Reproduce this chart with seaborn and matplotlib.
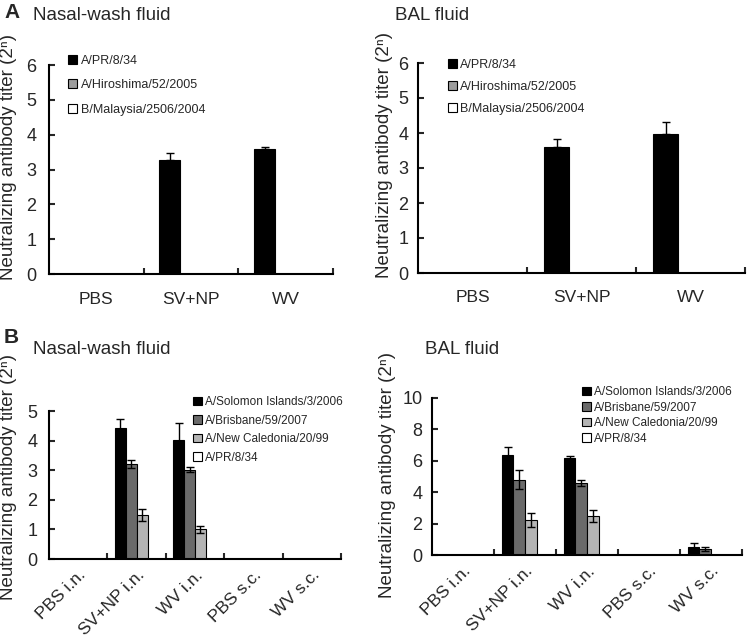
import numpy as np
import pandas as pd
import matplotlib
matplotlib.use("Agg")
import matplotlib.pyplot as plt
import seaborn as sns

# ---------------- data ----------------
groups_a = ["PBS", "SV+NP", "WV"]
strains_a = ["A/PR/8/34", "A/Hiroshima/52/2005", "B/Malaysia/2506/2004"]

nasal_a_pr8 = [0, 3.28, 3.58]
nasal_a_pr8_err = [0, 0.18, 0.07]
nasal_a_hiroshima = [0, 0, 0]
nasal_a_malaysia = [0, 0, 0]

bal_a_pr8 = [0, 3.61, 3.98]
bal_a_pr8_err = [0, 0.22, 0.34]
bal_a_hiroshima = [0, 0, 0]
bal_a_malaysia = [0, 0, 0]

groups_b = ["PBS i.n.", "SV+NP i.n.", "WV i.n.", "PBS s.c.", "WV s.c."]
strains_b = ["A/Solomon Islands/3/2006", "A/Brisbane/59/2007",
             "A/New Caledonia/20/99", "A/PR/8/34"]

nasal_b_solomon = [0, 4.41, 4.02, 0, 0]
nasal_b_solomon_err = [0, 0.32, 0.57, 0, 0]
nasal_b_brisbane = [0, 3.20, 3.02, 0, 0]
nasal_b_brisbane_err = [0, 0.13, 0.09, 0, 0]
nasal_b_caledonia = [0, 1.49, 1.00, 0, 0]
nasal_b_caledonia_err = [0, 0.19, 0.12, 0, 0]
nasal_b_pr8 = [0, 0, 0, 0, 0]
nasal_b_pr8_err = [0, 0, 0, 0, 0]

bal_b_solomon = [0, 6.40, 6.15, 0, 0.53]
bal_b_solomon_err = [0, 0.51, 0.15, 0, 0.21]
bal_b_brisbane = [0, 4.80, 4.58, 0, 0.38]
bal_b_brisbane_err = [0, 0.59, 0.21, 0, 0.15]
bal_b_caledonia = [0, 2.23, 2.46, 0, 0]
bal_b_caledonia_err = [0, 0.45, 0.38, 0, 0]
bal_b_pr8 = [0, 0, 0, 0, 0]
bal_b_pr8_err = [0, 0, 0, 0, 0]

palette_a = ["#000000", "#9c9c9c", "#ffffff"]
palette_b = ["#000000", "#6a6a6a", "#b4b4b4", "#ffffff"]

ylabel = "Neutralizing antibody titer (2\u207f)"

# ---------------- style ----------------
sns.set_style("ticks")
plt.rcParams["font.family"] = ["Liberation Sans", "DejaVu Sans"]
plt.rcParams["axes.edgecolor"] = "black"

fig = plt.figure(figsize=(7.5, 6.41), dpi=100)
W, H = 750, 641


def axes_px(left, top, right, bottom):
    return fig.add_axes([left / W, 1 - bottom / H, (right - left) / W, (bottom - top) / H])


def panel(ax, groups, strains, values, errors, palette, width, ylim, yticks,
          one_sided, rotate, ylab_xy, leg_xy, leg_fs, leg_space, ypad, xpad):
    rows = []
    for s, vals in zip(strains, values):
        for g, v in zip(groups, vals):
            rows.append({"group": g, "strain": s, "value": v})
    df = pd.DataFrame(rows)
    sns.barplot(data=df, x="group", y="value", hue="strain", order=groups,
                hue_order=strains, palette=palette, width=width, errorbar=None,
                edgecolor="black", linewidth=0.8, saturation=1, legend=False, ax=ax)
    for cont, vals, errs in zip(ax.containers, values, errors):
        for bar, v, e in zip(cont, vals, errs):
            if e > 0:
                xc = bar.get_x() + bar.get_width() / 2
                yerr = [[0], [e]] if one_sided else [[e], [e]]
                ax.errorbar([xc], [v], yerr=yerr, fmt="none", ecolor="black",
                            elinewidth=1.0, capsize=3.2 if not one_sided else 3.0,
                            capthick=1.0, zorder=5)
    ax.set_xlim(-0.5, len(groups) - 0.5)
    ax.set_ylim(*ylim)
    ax.set_yticks(yticks)
    ax.set_xticks(range(len(groups)))
    ax.set_xticks(np.arange(0.5, len(groups), 1.0), minor=True)
    if rotate:
        ax.set_xticklabels(groups, rotation=45, ha="right", rotation_mode="anchor")
    else:
        ax.set_xticklabels(groups)
    ax.tick_params(axis="x", which="major", length=0, pad=xpad, labelsize=12.5)
    ax.tick_params(axis="x", which="minor", direction="in", length=4, width=1.5)
    ax.tick_params(axis="y", direction="in", length=4, width=1.5, pad=ypad, labelsize=13)
    for sp in ["top", "right"]:
        ax.spines[sp].set_visible(False)
    for sp in ["left", "bottom"]:
        ax.spines[sp].set_linewidth(1.5)
    ax.set_xlabel("")
    ax.set_ylabel(ylabel, fontsize=13.5)
    ax.yaxis.set_label_coords(*ylab_xy)
    ax.legend(ax.containers, strains, loc="upper left", bbox_to_anchor=leg_xy,
              frameon=False, fontsize=leg_fs, handlelength=0.75, handleheight=0.75,
              handletextpad=0.25, borderpad=0, borderaxespad=0, labelspacing=leg_space)


ax1 = axes_px(49, 65, 333, 274)
panel(ax1, groups_a, strains_a,
      [nasal_a_pr8, nasal_a_hiroshima, nasal_a_malaysia],
      [nasal_a_pr8_err, [0, 0, 0], [0, 0, 0]],
      palette_a, 0.67, (0, 6), range(0, 7), True, False,
      (-0.113, 0.56), (0.067, 1.05), 9, 1.0, 9, 13)

ax2 = axes_px(418, 63, 745, 273)
panel(ax2, groups_a, strains_a,
      [bal_a_pr8, bal_a_hiroshima, bal_a_malaysia],
      [bal_a_pr8_err, [0, 0, 0], [0, 0, 0]],
      palette_a, 0.68, (0, 6), range(0, 7), True, False,
      (-0.076, 0.56), (0.091, 1.02), 9, 0.8, 7, 12)

ax3 = axes_px(49, 411, 341, 559)
panel(ax3, groups_b, strains_b,
      [nasal_b_solomon, nasal_b_brisbane, nasal_b_caledonia, nasal_b_pr8],
      [nasal_b_solomon_err, nasal_b_brisbane_err, nasal_b_caledonia_err, nasal_b_pr8_err],
      palette_b, 0.75, (0, 5), range(0, 6), False, True,
      (-0.11, 0.554), (0.493, 1.10), 8.5, 0.55, 8.5, 6)

ax4 = axes_px(432, 398, 742, 555)
panel(ax4, groups_b, strains_b,
      [bal_b_solomon, bal_b_brisbane, bal_b_caledonia, bal_b_pr8],
      [bal_b_solomon_err, bal_b_brisbane_err, bal_b_caledonia_err, bal_b_pr8_err],
      palette_b, 0.75, (0, 10), range(0, 11, 2), False, True,
      (-0.116, 0.51), (0.483, 1.076), 8.5, 0.3, 7, 6)

# titles and panel letters
fig.text(4 / W, 1 - 13 / H, "A", fontsize=15, fontweight="bold", va="center", ha="left")
fig.text(33 / W, 1 - 15 / H, "Nasal-wash fluid", fontsize=13.5, va="center", ha="left")
fig.text(395 / W, 1 - 15 / H, "BAL fluid", fontsize=13.5, va="center", ha="left")
fig.text(4 / W, 1 - 338 / H, "B", fontsize=15, fontweight="bold", va="center", ha="left")
fig.text(33 / W, 1 - 350 / H, "Nasal-wash fluid", fontsize=13.5, va="center", ha="left")
fig.text(425 / W, 1 - 350 / H, "BAL fluid", fontsize=13.5, va="center", ha="left")

fig.savefig("out.png", dpi=100, facecolor="white")
